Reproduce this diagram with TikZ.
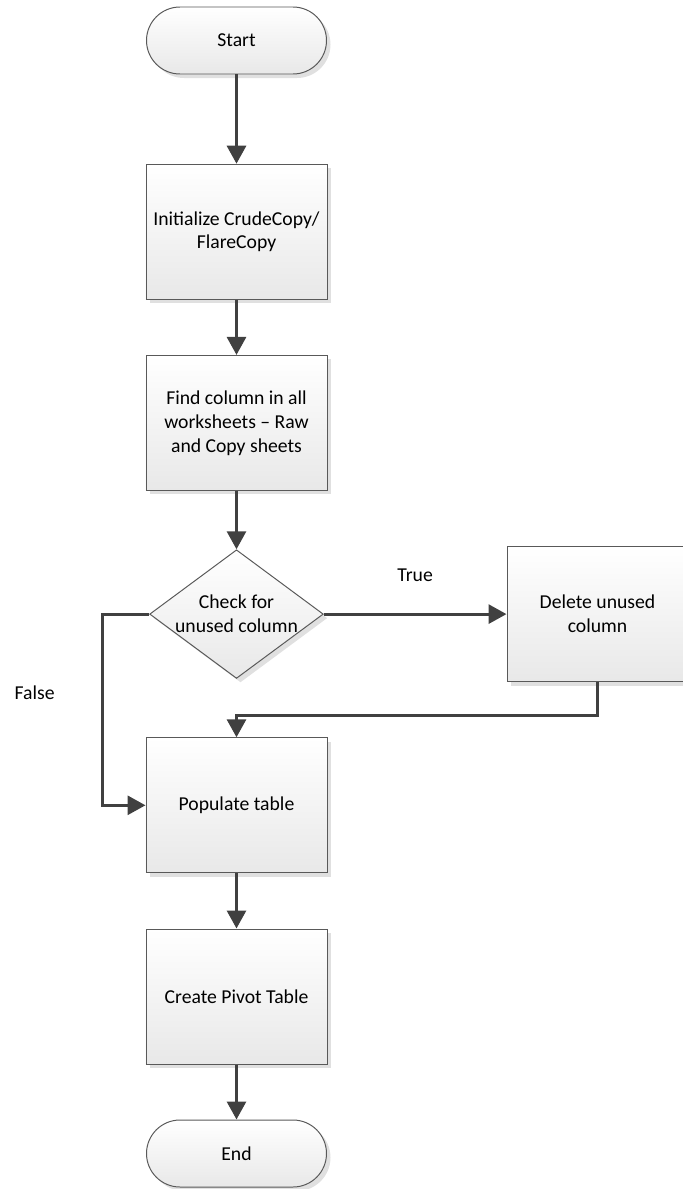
\documentclass[tikz,border=0pt]{standalone}
\usepackage{fontspec}
\setmainfont{Carlito}
\usepackage{tikz}
\usetikzlibrary{shapes,arrows.meta,calc,shadows}
\tikzstyle{line} = [draw=black!75, line width=0.075cm, -{Triangle[length=0.45cm,width=0.475cm]}]
\tikzstyle{boxfill} = [draw=black!65, line width=0.7pt, top color=white, bottom color=black!9, drop shadow={shadow xshift=0.1cm, shadow yshift=-0.1cm, fill=black!12, opacity=1}]
\tikzstyle{block} = [boxfill, rectangle, align=center, minimum width=4.525cm, minimum height=3.375cm]
\tikzstyle{decision} = [boxfill, diamond, aspect=1.35, align=center, inner sep=0pt]
\tikzstyle{terminal} = [boxfill, rectangle, rounded corners=0.8375cm, minimum width=4.5cm, minimum height=1.675cm]

\begin{document}
\begin{tikzpicture}[node distance = 4.78cm, font=\fontsize{14pt}{17pt}\selectfont]
        \useasboundingbox (-5.9125,1.0125) rectangle (11.1375,-28.7125);
        \node[terminal] (start) {Start};
        \node[block, below of=start] (init) {Initialize CrudeCopy/\\FlareCopy};
        \node[block, below of=init] (find) {Find column in all\\worksheets – Raw\\and Copy sheets};
        \node[decision, below of=find] (check) {Check for\\unused column};
        \node[block, right of=check, node distance=9.025cm] (delete) {Delete unused\\column};
        \node[block, below of=check] (populate) {Populate table};
        \node[block, below of=populate] (pivot) {Create Pivot Table};
        \node[terminal, below of=pivot, node distance=3.925cm] (stop) {End};
        \path[line] (start) -- (init);
        \path[line] (init) -- (find);
        \path[line] (find) -- (check);
        \path[line] (check) -- node[anchor=center, yshift=0.975cm] {True} (delete);
        \path[line] (check.west) -- ++(-1.1625cm,0) |- node[pos=0.206, anchor=center, xshift=-1.7cm] {False} (populate.west);
        \path[line] (delete.south) -- ++(0,-0.8375cm) -| (populate.north);
        \path[line] (populate) -- (pivot);
        \path[line] (pivot) -- (stop);
    \end{tikzpicture}
\end{document}
